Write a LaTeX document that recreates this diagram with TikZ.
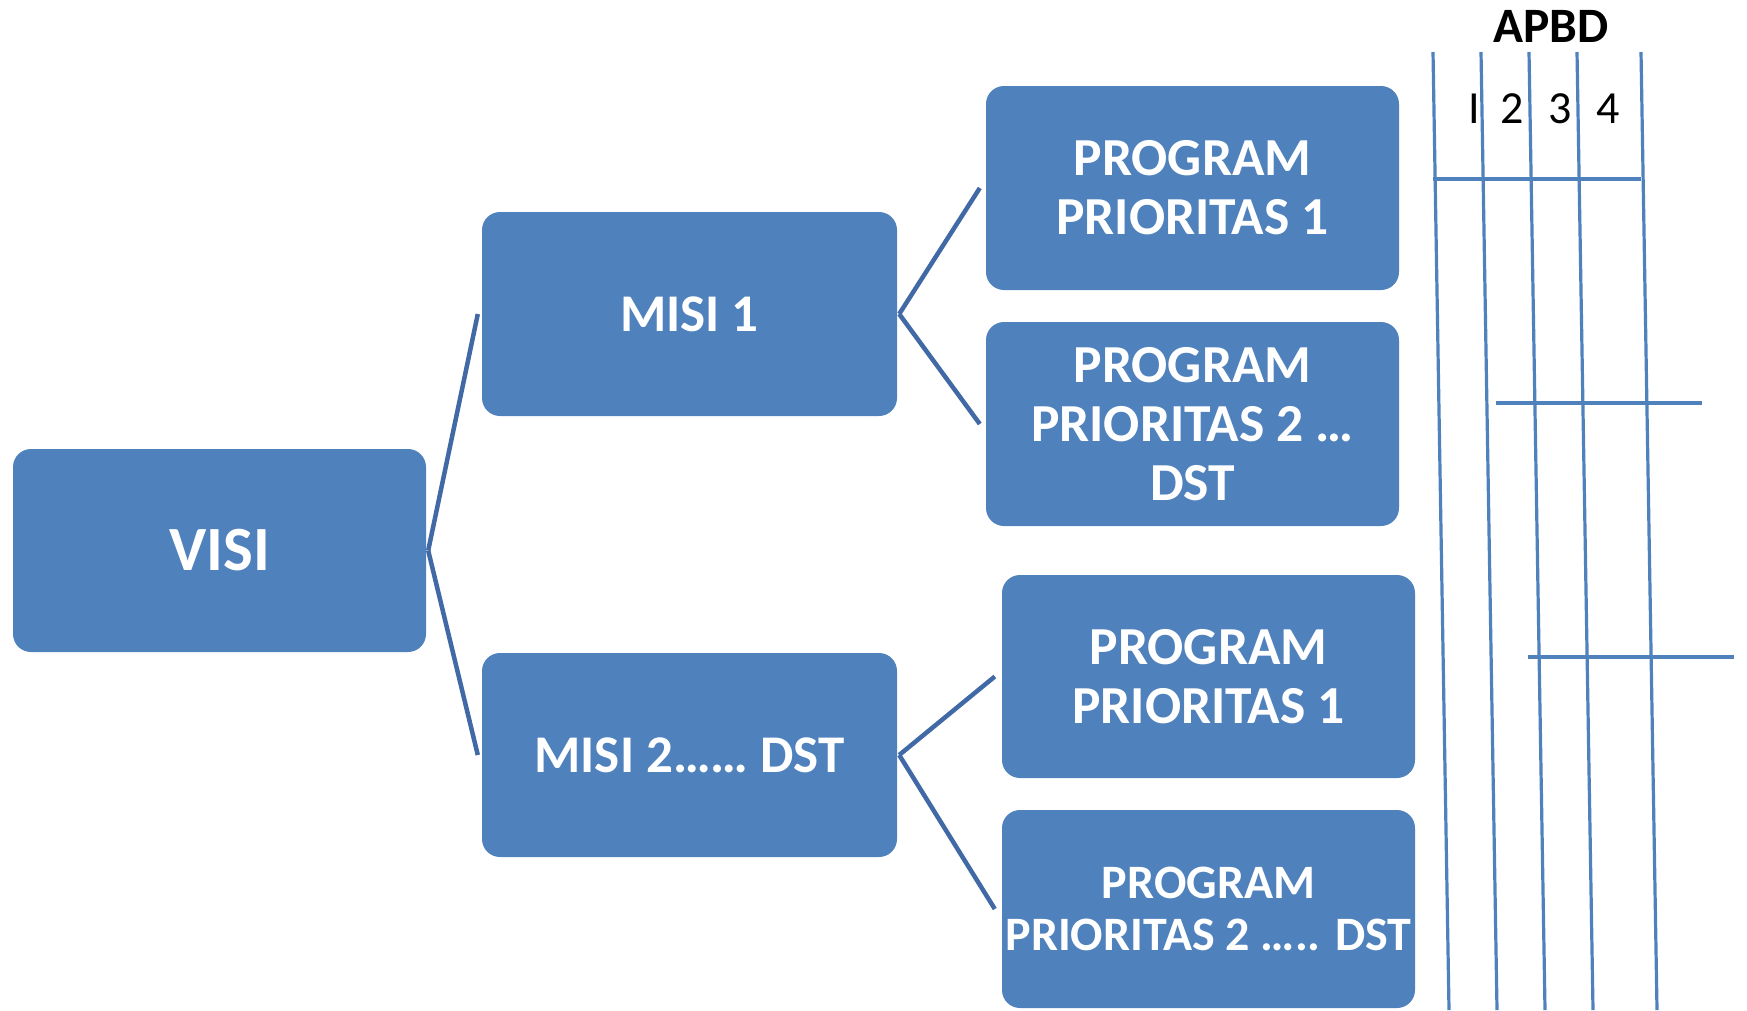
\documentclass[tikz,border=0pt]{standalone}
\usepackage{fontspec}
\setmainfont{Carlito}
\definecolor{boxblue}{HTML}{4F81BD}
\definecolor{linkblue}{HTML}{4169A5}
\tikzset{
  blk/.style={fill=boxblue, rounded corners=18pt, text=white, align=center, inner sep=0pt},
  bigtxt/.style={font=\bfseries\fontsize{63}{76}\selectfont},
  midtxt/.style={font=\bfseries\fontsize{53}{64}\selectfont},
  progtxt/.style={font=\bfseries\fontsize{53.5}{59}\selectfont},
  smalltxt/.style={font=\bfseries\fontsize{48}{52}\selectfont},
  conn/.style={draw=linkblue, line width=4.5pt},
  gridline/.style={draw=boxblue, line width=3.2pt},
  numtxt/.style={font=\fontsize{46}{54}\selectfont, anchor=base, inner sep=0pt},
}
\begin{document}
\begin{tikzpicture}[x=1pt,y=-1pt]
\useasboundingbox (0,0) rectangle (1747,1010);

% hierarchy boxes
\node[blk, bigtxt, minimum width=413pt, minimum height=203pt] (visi) at (219.5,550.5) {VISI};
\node[blk, midtxt, minimum width=415pt, minimum height=204pt] (misi1) at (689.5,314) {MISI 1};
\node[blk, midtxt, minimum width=415pt, minimum height=204pt] (misi2) at (689.5,755) {MISI 2…… DST};
\node[blk, progtxt, minimum width=413pt, minimum height=204pt] (p1a) at (1192.5,188) {PROGRAM\\PRIORITAS 1};
\node[blk, progtxt, minimum width=413pt, minimum height=204pt] (p2a) at (1192.5,424) {PROGRAM\\PRIORITAS 2 …\\DST};
\node[blk, progtxt, minimum width=413pt, minimum height=203pt] (p1b) at (1208.5,676.5) {PROGRAM\\PRIORITAS 1};
\node[blk, smalltxt, minimum width=413pt, minimum height=198pt] (p2b) at (1208.5,909) {PROGRAM\\PRIORITAS 2 ….. DST};

% connectors
\draw[conn] ([xshift=2pt]visi.east) -- ([xshift=-4pt]misi1.west);
\draw[conn] ([xshift=2pt]visi.east) -- ([xshift=-4pt]misi2.west);
\draw[conn] ([xshift=2pt]misi1.east) -- ([xshift=-6pt]p1a.west);
\draw[conn] ([xshift=2pt]misi1.east) -- ([xshift=-6pt]p2a.west);
\draw[conn] ([xshift=2pt]misi2.east) -- ([xshift=-7pt]p1b.west);
\draw[conn] ([xshift=2pt]misi2.east) -- ([xshift=-7pt]p2b.west);

% APBD table
\node[font=\bfseries\fontsize{49.5}{58}\selectfont, anchor=base, inner sep=0pt] (apbd) at (1551,42) {APBD};
\node[numtxt] (n1) at (1474,123) {I};
\node[numtxt] (n2) at (1512,123) {2};
\node[numtxt] (n3) at (1560,123) {3};
\node[numtxt] (n4) at (1608,123) {4};

\foreach \xt/\xb in {1433/1449, 1481/1497, 1529/1545, 1577/1593, 1641/1657}
  \draw[gridline] (\xt,52) -- (\xb,1010);
\draw[gridline] (1433,179) -- (1641,179);
\draw[gridline] (1496,403) -- (1702,403);
\draw[gridline] (1528,657) -- (1734,657);
\end{tikzpicture}
\end{document}
